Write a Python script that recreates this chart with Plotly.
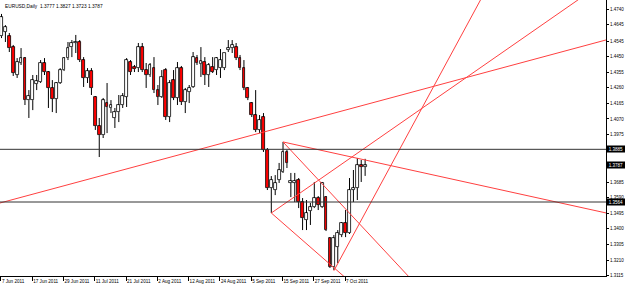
import plotly.graph_objects as go

# ---------------- data ----------------
tick_idx = [0, 8, 16, 24, 32, 40, 48, 56, 64, 72, 80, 88]
tick_text = ["7 Jun 2011", "17 Jun 2011", "29 Jun 2011", "11 Jul 2011", "21 Jul 2011",
             "2 Aug 2011", "12 Aug 2011", "24 Aug 2011", "5 Sep 2011", "15 Sep 2011",
             "27 Sep 2011", "7 Oct 2011"]

opens = [1.4575, 1.4600, 1.4575, 1.4508, 1.4338, 1.4411, 1.4441, 1.4185, 1.4185, 1.4283,
         1.4295, 1.4411, 1.4356, 1.4259, 1.4192, 1.4289, 1.4368, 1.4441, 1.4508, 1.4533,
         1.4539, 1.4429, 1.4320, 1.4362, 1.4204, 1.4027, 1.3972, 1.4167, 1.4137, 1.4076,
         1.4112, 1.4155, 1.4204, 1.4417, 1.4387, 1.4380, 1.4508, 1.4368, 1.4338, 1.4380,
         1.4246, 1.4204, 1.4368, 1.4082, 1.4307, 1.4198, 1.4380, 1.4173, 1.4234, 1.4265,
         1.4441, 1.4405, 1.4417, 1.4338, 1.4387, 1.4368, 1.4380, 1.4380, 1.4490, 1.4502,
         1.4508, 1.4441, 1.4380, 1.4259, 1.4167, 1.4094, 1.4003, 1.4082, 1.3881, 1.3649,
         1.3637, 1.3698, 1.3747, 1.3869, 1.3680, 1.3680, 1.3698, 1.3564, 1.3454, 1.3509,
         1.3533, 1.3588, 1.3533, 1.3594, 1.3344, 1.3168, 1.3290, 1.3363, 1.3436, 1.3375,
         1.3637, 1.3649, 1.3789, 1.3777]
highs = [1.4710, 1.4642, 1.4594, 1.4521, 1.4441, 1.4502, 1.4447, 1.4246, 1.4338, 1.4338,
         1.4429, 1.4441, 1.4362, 1.4307, 1.4295, 1.4380, 1.4447, 1.4539, 1.4551, 1.4582,
         1.4551, 1.4447, 1.4380, 1.4380, 1.4210, 1.4076, 1.4198, 1.4289, 1.4185, 1.4137,
         1.4216, 1.4228, 1.4441, 1.4429, 1.4399, 1.4533, 1.4533, 1.4411, 1.4411, 1.4447,
         1.4277, 1.4368, 1.4380, 1.4307, 1.4368, 1.4417, 1.4393, 1.4259, 1.4277, 1.4478,
         1.4460, 1.4508, 1.4447, 1.4411, 1.4447, 1.4447, 1.4496, 1.4472, 1.4551, 1.4551,
         1.4533, 1.4460, 1.4429, 1.4265, 1.4173, 1.4246, 1.4094, 1.4106, 1.3893, 1.3722,
         1.3728, 1.3802, 1.3930, 1.3881, 1.3741, 1.3741, 1.3710, 1.3588, 1.3576, 1.3558,
         1.3686, 1.3600, 1.3686, 1.3600, 1.3350, 1.3363, 1.3393, 1.3442, 1.3515, 1.3710,
         1.3759, 1.3832, 1.3820, 1.3827]
lows = [1.4563, 1.4539, 1.4478, 1.4332, 1.4320, 1.4399, 1.4155, 1.4076, 1.4124, 1.4246,
        1.4289, 1.4338, 1.4137, 1.4112, 1.4106, 1.4283, 1.4362, 1.4429, 1.4447, 1.4472,
        1.4417, 1.4265, 1.4289, 1.4216, 1.4003, 1.3838, 1.3954, 1.3984, 1.4106, 1.4015,
        1.4051, 1.4137, 1.4143, 1.4338, 1.4356, 1.4356, 1.4356, 1.4259, 1.4326, 1.4228,
        1.4155, 1.4198, 1.4064, 1.4051, 1.4185, 1.4155, 1.4155, 1.4106, 1.4167, 1.4259,
        1.4399, 1.4326, 1.4277, 1.4265, 1.4350, 1.4338, 1.4320, 1.4368, 1.4478, 1.4472,
        1.4429, 1.4368, 1.4246, 1.4185, 1.4082, 1.3990, 1.3984, 1.3869, 1.3637, 1.3497,
        1.3606, 1.3680, 1.3741, 1.3771, 1.3594, 1.3564, 1.3527, 1.3393, 1.3393, 1.3424,
        1.3527, 1.3515, 1.3527, 1.3387, 1.3162, 1.3150, 1.3192, 1.3350, 1.3350, 1.3369,
        1.3564, 1.3576, 1.3686, 1.3723]
closes = [1.4691, 1.4630, 1.4502, 1.4350, 1.4417, 1.4441, 1.4185, 1.4210, 1.4307, 1.4301,
          1.4411, 1.4356, 1.4259, 1.4192, 1.4289, 1.4368, 1.4441, 1.4502, 1.4533, 1.4539,
          1.4429, 1.4320, 1.4362, 1.4259, 1.4027, 1.3972, 1.4185, 1.4143, 1.4155, 1.4112,
          1.4155, 1.4210, 1.4429, 1.4356, 1.4374, 1.4508, 1.4368, 1.4338, 1.4399, 1.4246,
          1.4204, 1.4326, 1.4082, 1.4289, 1.4198, 1.4380, 1.4173, 1.4246, 1.4259, 1.4447,
          1.4411, 1.4423, 1.4338, 1.4399, 1.4356, 1.4441, 1.4429, 1.4472, 1.4502, 1.4521,
          1.4441, 1.4380, 1.4259, 1.4198, 1.4094, 1.4003, 1.4064, 1.3881, 1.3649, 1.3698,
          1.3680, 1.3759, 1.3869, 1.3802, 1.3692, 1.3692, 1.3564, 1.3466, 1.3497, 1.3533,
          1.3588, 1.3546, 1.3680, 1.3393, 1.3168, 1.3344, 1.3375, 1.3436, 1.3375, 1.3637,
          1.3649, 1.3789, 1.3777, 1.3787]

price_ticks = [1.4740, 1.4645, 1.4545, 1.4450, 1.4355, 1.4260, 1.4165, 1.4070, 1.3975,
               1.3880, 1.3685, 1.3590, 1.3495, 1.3400, 1.3305, 1.3210, 1.3115]
hline_levels = [1.3885, 1.3564]
bid_price = 1.3787
title_text = "EURUSD,Daily  1.3777 1.3827 1.3723 1.3787"

# trend lines: (bar0, price0, bar1, price1)
trend_lines = [
    (-1.0, 1.3554, 155.0, 1.4554),
    (72.0, 1.3930, 156.0, 1.3490),
    (72.0, 1.3930, 110.0, 1.2960),
    (69.0, 1.3497, 95.0, 1.2956),
    (69.0, 1.3497, 150.0, 1.4838),
    (85.0, 1.3145, 125.0, 1.4905),
]

# ---------------- figure ----------------
n = len(opens)
idx = list(range(n))
fig = go.Figure()

wx, wy = [], []
for i in idx:
    top = max(opens[i], closes[i])
    bot = min(opens[i], closes[i])
    wx += [i, i, None, i, i, None]
    wy += [highs[i], top, None, bot, lows[i], None]
fig.add_trace(go.Scatter(x=wx, y=wy, mode="lines", line=dict(color="black", width=1),
                         hoverinfo="skip"))

bull = [i for i in idx if closes[i] >= opens[i]]
bear = [i for i in idx if closes[i] < opens[i]]
for sel, col in ((bull, "white"), (bear, "#ff0000")):
    fig.add_trace(go.Bar(
        x=sel,
        y=[max(abs(closes[i] - opens[i]), 0.00006) for i in sel],
        base=[min(opens[i], closes[i]) for i in sel],
        width=0.72,
        marker=dict(color=col, line=dict(color="black", width=0.8)),
    ))

for (x0, y0, x1, y1) in trend_lines:
    fig.add_trace(go.Scatter(x=[x0, x1], y=[y0, y1], mode="lines",
                             line=dict(color="#ff4040", width=1), hoverinfo="skip"))

for lv in hline_levels:
    fig.add_shape(type="line", xref="paper", x0=0, x1=1, yref="y", y0=lv, y1=lv,
                  line=dict(color="#333333", width=1))

font = "Liberation Sans, Arial, sans-serif"
fig.update_layout(
    template="none",
    width=625, height=286,
    margin=dict(l=0, r=19, t=0, b=10, autoexpand=False),
    paper_bgcolor="white", plot_bgcolor="white",
    showlegend=False, barmode="overlay", bargap=0,
    font=dict(family=font, size=5, color="black"),
    xaxis=dict(range=[-0.384, 154.6], showgrid=False, zeroline=False, automargin=False,
               showline=True, linecolor="black", linewidth=1,
               ticks="outside", ticklen=4, tickcolor="black", tickwidth=1,
               tickvals=[t - 0.15 for t in tick_idx], ticktext=tick_text,
               ticklabelposition="outside right", tickangle=0,
               tickfont=dict(size=4.6, family=font, color="black")),
    yaxis=dict(side="right", range=[1.3113, 1.4795], showgrid=False, zeroline=False,
               automargin=False,
               showline=True, linecolor="black", linewidth=1,
               ticks="outside", ticklen=2, tickcolor="black",
               tickvals=price_ticks, ticktext=[f"{v:.4f}" for v in price_ticks],
               tickfont=dict(size=4.5, family=font, color="black")),
)

fig.add_annotation(xref="paper", yref="paper", x=0, y=1, xanchor="left", yanchor="top",
                   xshift=3, yshift=-2, text=title_text, showarrow=False,
                   font=dict(size=4.8, family=font, color="black"))

for lv in hline_levels + [bid_price]:
    fig.add_annotation(xref="paper", yref="y", x=1, y=lv, xanchor="left", yanchor="middle",
                       text=f"{lv:.4f}", showarrow=False, bgcolor="black",
                       width=18, height=6, borderpad=0, align="center",
                       font=dict(size=4.5, family=font, color="white"))

fig.write_html("out.html")
